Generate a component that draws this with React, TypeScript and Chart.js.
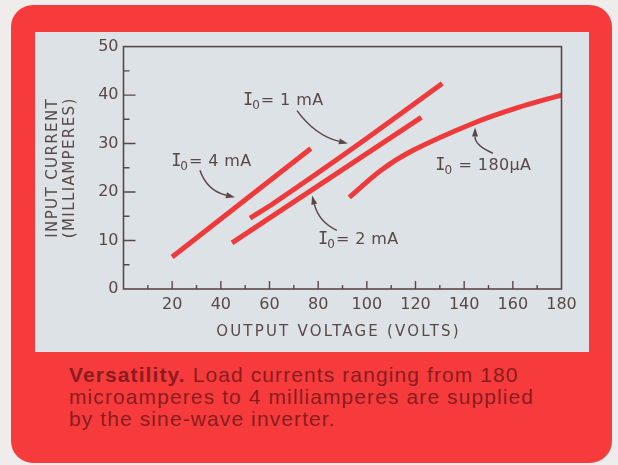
import React, { useEffect, useRef } from 'react';
import { Chart, registerables } from 'chart.js';

Chart.register(...registerables);

// Output voltage (V) vs input current (mA) for each load current
const voltage4mA = [20, 77];
const current4mA = [6.6, 29.0];
const voltage1mA = [52, 62, 95, 131];
const current1mA = [14.6, 17.8, 29.3, 42.4];
const voltage2mA = [44.6, 122.4];
const current2mA = [9.5, 35.4];
const voltage180uA = [92.8, 105.6, 119, 143.8, 162, 180];
const current180uA = [18.9, 24.4, 28.6, 34.2, 37.4, 40.0];

const xTickValues = [20, 40, 60, 80, 100, 120, 140, 160, 180];
const yTickValues = [0, 10, 20, 30, 40, 50];

// Curve labels ("I" + subscript "0" + rest) in data coordinates
const labelRest = ['= 4 mA', '= 1 mA', '= 2 mA', ' = 180\u03BCA'];
const labelX = [20.4, 49.9, 80.8, 128.9];
const labelY = [26.3, 38.9, 10.1, 25.5];
// Leader arrows (start, control, tip) in data coordinates
const arrowFromX = [31.4, 71.3, 87.7, 151.8];
const arrowFromY = [24.5, 36.8, 12.1, 28.0];
const arrowCtrlX = [34.3, 78.7, 80.3, 144.4];
const arrowCtrlY = [20.3, 31.7, 13.8, 29.6];
const arrowToX = [45.8, 92.2, 77.5, 144.5];
const arrowToY = [18.9, 30.0, 19.3, 33.3];

const INK = '#5a4846';
const RED = '#ee3a3b';
const SANS = '"DejaVu Sans", sans-serif';
const MONO = '"DejaVu Sans Mono", monospace';

const toPts = (xs: number[], ys: number[]) => xs.map((x, i) => ({ x, y: ys[i] }));

const decorPlugin = {
  id: 'decor',
  afterDraw(chart: any) {
    const { ctx, chartArea: a, scales } = chart;
    const xs = scales.x;
    const ys = scales.y;
    ctx.save();
    // frame
    ctx.strokeStyle = INK;
    ctx.lineWidth = 1.6;
    ctx.strokeRect(a.left, a.top, a.right - a.left, a.bottom - a.top);
    // inward ticks
    ctx.lineWidth = 1.4;
    ctx.beginPath();
    for (let v = 10; v < 180; v += 10) {
      const px = xs.getPixelForValue(v);
      const len = v % 20 === 0 ? 8 : 4;
      ctx.moveTo(px, a.bottom);
      ctx.lineTo(px, a.bottom - len);
    }
    for (let v = 5; v < 50; v += 5) {
      const py = ys.getPixelForValue(v);
      const len = v % 10 === 0 ? 12 : 6;
      ctx.moveTo(a.left, py);
      ctx.lineTo(a.left + len, py);
    }
    ctx.stroke();

    // axis titles
    ctx.fillStyle = INK;
    ctx.textBaseline = 'middle';
    ctx.textAlign = 'center';
    ctx.font = `15px ${SANS}`;
    (ctx as any).letterSpacing = '2.2px';
    ctx.fillText('OUTPUT VOLTAGE (VOLTS)', (a.left + a.right) / 2 - 4, a.bottom + 43);
    (ctx as any).letterSpacing = '1.4px';
    const cy = (a.top + a.bottom) / 2;
    ctx.save();
    ctx.translate(a.left - 70, cy);
    ctx.rotate(-Math.PI / 2);
    ctx.fillText('INPUT CURRENT', 0, 0);
    ctx.restore();
    ctx.save();
    ctx.translate(a.left - 53, cy);
    ctx.rotate(-Math.PI / 2);
    ctx.fillText('(MILLIAMPERES)', 0, 0);
    ctx.restore();

    // curve labels
    ctx.textAlign = 'left';
    labelRest.forEach((rest, i) => {
      let px = xs.getPixelForValue(labelX[i]);
      const py = ys.getPixelForValue(labelY[i]);
      (ctx as any).letterSpacing = '0px';
      ctx.font = `17px ${MONO}`;
      ctx.fillText('I', px - 2, py);
      px += ctx.measureText('I').width - 3;
      ctx.font = `12px ${SANS}`;
      ctx.fillText('0', px, py + 5);
      px += ctx.measureText('0').width + 1;
      (ctx as any).letterSpacing = '0.4px';
      ctx.font = `16px ${SANS}`;
      ctx.fillText(rest, px, py);
    });
    (ctx as any).letterSpacing = '0px';

    // arrows
    ctx.strokeStyle = INK;
    ctx.fillStyle = INK;
    ctx.lineWidth = 1.5;
    for (let i = 0; i < arrowFromX.length; i++) {
      const x0 = xs.getPixelForValue(arrowFromX[i]);
      const y0 = ys.getPixelForValue(arrowFromY[i]);
      const cx = xs.getPixelForValue(arrowCtrlX[i]);
      const cyy = ys.getPixelForValue(arrowCtrlY[i]);
      const x1 = xs.getPixelForValue(arrowToX[i]);
      const y1 = ys.getPixelForValue(arrowToY[i]);
      const ang = Math.atan2(y1 - cyy, x1 - cx);
      const hl = 9;
      const hw = 3;
      const bx = x1 - hl * Math.cos(ang);
      const by = y1 - hl * Math.sin(ang);
      ctx.beginPath();
      ctx.moveTo(x0, y0);
      ctx.quadraticCurveTo(cx, cyy, bx, by);
      ctx.stroke();
      ctx.beginPath();
      ctx.moveTo(x1, y1);
      ctx.lineTo(bx + hw * Math.sin(ang), by - hw * Math.cos(ang));
      ctx.lineTo(bx - hw * Math.sin(ang), by + hw * Math.cos(ang));
      ctx.closePath();
      ctx.fill();
    }
    ctx.restore();
  },
};

export default function App() {
  const ref = useRef<HTMLCanvasElement>(null);
  useEffect(() => {
    if (!ref.current) return;
    const lineDs = (label: string, xs: number[], ys: number[]) => ({
      label,
      data: toPts(xs, ys),
      borderColor: RED,
      backgroundColor: RED,
      borderWidth: 5,
      borderCapStyle: 'butt' as const,
      pointRadius: 0,
      tension: 0.3,
      fill: false,
    });
    const chart = new Chart(ref.current, {
      type: 'line',
      data: {
        datasets: [
          lineDs('4 mA', voltage4mA, current4mA),
          lineDs('1 mA', voltage1mA, current1mA),
          lineDs('2 mA', voltage2mA, current2mA),
          lineDs('180 uA', voltage180uA, current180uA),
        ],
      },
      options: {
        responsive: false,
        animation: false,
        devicePixelRatio: 1,
        layout: { padding: { top: 14, right: 27.5, left: 0, bottom: 0 } },
        plugins: { legend: { display: false }, tooltip: { enabled: false } },
        scales: {
          x: {
            type: 'linear',
            min: 0,
            max: 180,
            afterFit: (s: any) => { s.height = 63; },
            afterBuildTicks: (s: any) => { s.ticks = xTickValues.map((v) => ({ value: v })); },
            grid: { display: false, drawTicks: false, tickLength: 0 },
            border: { display: false },
            ticks: {
              autoSkip: false,
              maxRotation: 0,
              padding: 6,
              color: INK,
              font: { family: SANS, size: 16 },
            },
          },
          y: {
            type: 'linear',
            min: 0,
            max: 50,
            afterFit: (s: any) => { s.width = 88.5; },
            afterBuildTicks: (s: any) => { s.ticks = yTickValues.map((v) => ({ value: v })); },
            grid: { display: false, drawTicks: false, tickLength: 0 },
            border: { display: false },
            ticks: {
              padding: 5,
              color: INK,
              font: { family: SANS, size: 16 },
            },
          },
        },
      },
      plugins: [decorPlugin],
    });
    return () => chart.destroy();
  }, []);

  return (
    <div style={{ position: 'absolute', left: 0, top: 0, width: 618, height: 465, background: '#efedeb', overflow: 'hidden' }}>
      <div style={{ position: 'absolute', left: 11, top: 5, width: 601, height: 458, borderRadius: 22, background: '#f73b3d' }} />
      <div style={{ position: 'absolute', left: 35, top: 32, width: 554, height: 320, background: '#dde2e7' }}>
        <canvas ref={ref} width={554} height={320} style={{ display: 'block', width: 554, height: 320 }} />
      </div>
      <div
        style={{
          position: 'absolute',
          left: 69,
          top: 364,
          width: 540,
          fontFamily: '"Liberation Sans", Arial, sans-serif',
          fontSize: 21,
          letterSpacing: '1.1px',
          lineHeight: '22px',
          color: '#8a1c1e',
          whiteSpace: 'nowrap',
        }}
      >
        <b>Versatility.</b> Load currents ranging from 180<br />
        microamperes to 4 milliamperes are supplied<br />
        by the sine-wave inverter.
      </div>
    </div>
  );
}
